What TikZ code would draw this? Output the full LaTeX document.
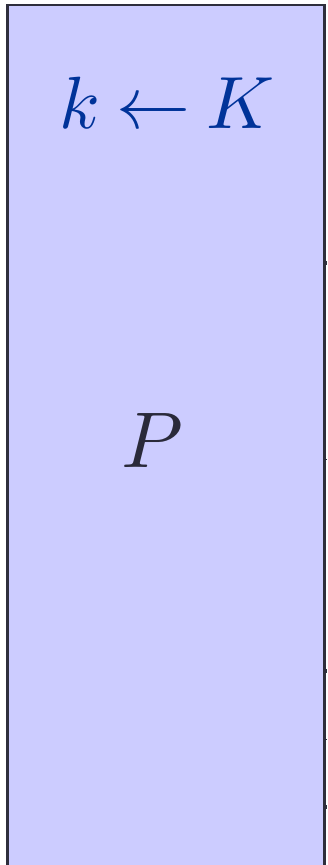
\documentclass[tikz,border=0pt]{standalone}
\usepackage{graphicx}
\definecolor{boxfill}{HTML}{CCCCFF}
\definecolor{boxline}{HTML}{2E2E3C}
\definecolor{keyblue}{HTML}{003399}
\definecolor{partytext}{HTML}{2A2A3A}
\tikzset{
  partybox/.style={draw=boxline, line width=2.2pt, fill=boxfill},
  keytext/.style={text=keyblue, inner sep=0pt},
  nametext/.style={text=partytext, inner sep=0pt},
  stub/.style={fill=boxline, draw=none}
}
\begin{document}
\begin{tikzpicture}[x=1pt,y=-1pt]
\useasboundingbox (0,0) rectangle (327,865);
\clip (0,0) rectangle (327,865);
\draw[partybox] (7.5,5) rectangle (324.5,880);
\node[keytext, anchor=base] (kk) at (167,128) {\scalebox{7.4}{$k\mkern-1mu \leftarrow\mkern-1mu K$}};
\node[nametext, anchor=base] (pp) at (152,467) {\scalebox{7.9}{$P$}};
\fill[stub] (325.5,260.5) rectangle (327,264.5);
\fill[stub] (325.5,458.5) rectangle (327,459.5);
\fill[stub] (325.5,669) rectangle (327,673);
\fill[stub] (325.5,738.5) rectangle (327,739.5);
\fill[stub] (325.5,805) rectangle (327,809);
\end{tikzpicture}
\end{document}
